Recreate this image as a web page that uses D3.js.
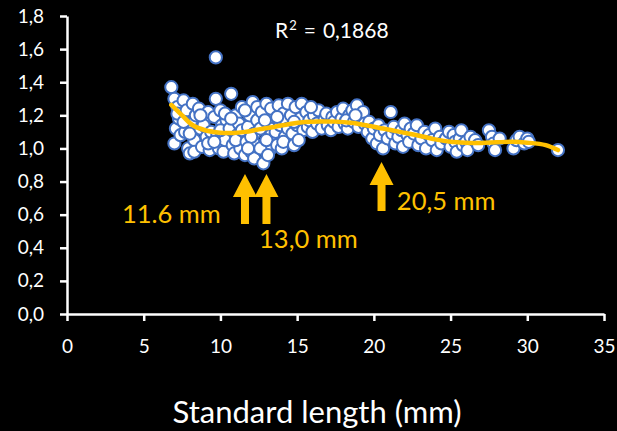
<!DOCTYPE html>
<html>
<head>
<meta charset="utf-8">
<script src="https://cdn.jsdelivr.net/npm/d3@7"></script>
<style>
  html, body { margin: 0; padding: 0; background: #000; }
  svg { display: block; }
  text { font-family: Lato, "Open Sans", sans-serif; }
</style>
</head>
<body>
<div id="chart"></div>
<script>
// Standard length (mm) vs. ratio, one pair per fish
const measurements = [
  [6.8,1.37],[7.0,1.30],[7.2,1.25],[7.1,1.12],[7.0,1.03],[7.3,1.18],[7.4,1.08],[7.2,1.21],
  [7.6,1.29],[7.8,1.23],[7.7,1.10],[7.9,1.00],[8.0,0.97],[8.1,1.15],[8.2,1.27],[8.3,1.05],
  [7.6,1.16],[8.4,1.20],[8.0,1.09],[8.3,0.98],
  [8.6,1.24],[8.7,1.12],[8.8,1.01],[9.0,1.18],[9.1,1.07],[9.2,1.22],[9.3,0.99],[8.9,1.14],
  [9.4,1.10],[8.7,1.20],[9.2,1.03],
  [9.7,1.55],[9.7,1.30],[9.6,1.19],[9.8,1.08],[9.9,1.00],[10.0,1.23],[10.1,1.14],[10.2,0.98],
  [10.3,1.05],[10.4,1.17],[9.6,1.04],[10.0,1.11],[10.3,1.21],
  [10.7,1.33],[10.6,1.12],[10.8,1.02],[10.9,0.97],[11.0,1.20],[11.1,1.08],[11.2,1.15],[11.3,1.00],
  [11.4,1.25],[10.7,1.18],[11.0,1.05],[11.4,1.11],
  [11.6,0.96],[11.7,1.04],[11.8,1.13],[11.9,1.20],[12.0,0.98],[12.1,1.28],[12.2,1.09],[12.3,1.02],
  [12.4,1.17],[11.6,1.23],[12.0,1.07],[12.2,0.94],[12.4,1.25],[11.8,1.00],
  [12.6,1.12],[12.7,1.22],[12.8,0.91],[12.9,1.03],[13.0,1.27],[13.1,1.15],[13.2,0.99],[13.3,1.08],
  [13.4,1.19],[12.6,1.00],[12.9,1.17],[13.1,0.96],[13.3,1.24],[13.0,1.05],
  [13.6,1.10],[13.7,1.02],[13.8,1.26],[13.9,1.14],[14.0,1.00],[14.1,1.21],[14.2,1.07],[14.3,1.16],
  [14.4,1.27],[13.7,1.19],[14.1,1.04],[14.4,1.12],
  [14.6,1.20],[14.7,1.09],[14.8,1.02],[14.9,1.25],[15.0,1.14],[15.2,1.18],[15.3,1.27],[15.4,1.11],
  [15.1,1.05],[14.8,1.16],
  [15.6,1.22],[15.7,1.13],[15.8,1.17],[16.0,1.10],[16.1,1.20],[16.3,1.15],[16.4,1.23],[15.9,1.25],
  [16.6,1.12],[16.8,1.18],[16.9,1.21],[17.0,1.14],[17.2,1.11],[17.3,1.19],[17.4,1.16],
  [17.6,1.22],[17.7,1.13],[17.9,1.18],[18.0,1.24],[18.1,1.15],[18.3,1.12],[18.4,1.20],[18.2,1.17],
  [18.6,1.23],[18.7,1.16],[18.9,1.26],[19.0,1.13],[19.2,1.19],[19.3,1.22],[19.4,1.15],[18.8,1.20],
  [19.6,1.10],[19.7,1.16],[19.9,1.06],[20.0,1.12],[20.2,1.03],[20.3,1.14],[20.4,1.08],
  [20.6,1.00],[20.7,1.11],[20.9,1.06],[21.1,1.22],[21.2,1.09],[21.3,1.13],[21.4,1.03],
  [21.6,1.07],[21.8,1.11],[21.9,1.01],[22.0,1.15],[22.2,1.08],[22.3,1.04],[22.4,1.12],
  [22.6,1.09],[22.8,1.14],[22.9,1.02],[23.1,1.06],[23.3,1.10],[23.4,1.00],
  [23.6,1.08],[23.8,1.05],[24.0,1.12],[24.1,0.99],[24.3,1.07],[24.4,1.03],
  [24.7,1.06],[24.9,1.10],[25.0,1.01],[25.2,1.08],[25.3,1.04],[25.4,0.98],
  [25.6,1.06],[25.7,1.11],[25.8,1.02],[26.0,1.04],[26.1,0.99],[26.3,1.07],
  [26.6,1.05],[26.8,1.02],[27.5,1.11],
  [27.7,1.07],[27.8,1.03],[27.9,0.99],[28.2,1.06],
  [29.1,1.00],[29.3,1.05],[29.5,1.07],[29.8,1.03],[30.0,1.06],[30.1,1.04],
  [32.0,0.99]
];

// Fitted trend curve, sampled along the length range
const trendPoints = [
  [6.8,1.263],[7.5,1.20],[8.2,1.14],[9.0,1.11],[10.0,1.095],[10.8,1.093],[11.6,1.10],
  [12.5,1.115],[13.5,1.13],[14.5,1.148],[15.5,1.16],[16.5,1.163],[17.5,1.162],[18.5,1.155],
  [19.5,1.14],[20.6,1.12],[21.7,1.10],[22.8,1.08],[24,1.055],[25,1.04],[26,1.034],[27,1.033],
  [28,1.037],[29,1.04],[30,1.035],[31.2,1.02],[32,0.99]
];

// Marked lengths: arrow x, arrow tip and tail on the ratio scale
const markers = [
  { x: 11.6, tip: 0.846, tail: 0.544 },
  { x: 13.0, tip: 0.846, tail: 0.544 },
  { x: 20.5, tip: 0.918, tail: 0.622 }
];
const markerLabels = [
  { text: "11.6 mm", x: 3.58, y: 0.55 },
  { text: "13,0 mm", x: 12.52, y: 0.40 },
  { text: "20,5 mm", x: 21.5, y: 0.63 }
];

const xTicks = [0, 5, 10, 15, 20, 25, 30, 35];
const yTicks = [0, 0.2, 0.4, 0.6, 0.8, 1.0, 1.2, 1.4, 1.6, 1.8];
const rSquaredValue = "0,1868";
const xTitle = "Standard length (mm)";

const W = 617, H = 431;
const gold = "#FFC000", blue = "#4472C4";

const svg = d3.select("#chart").append("svg")
  .attr("width", W).attr("height", H)
  .style("background", "#000");

const x = d3.scaleLinear().domain([0, 35]).range([67, 604]);
const y = d3.scaleLinear().domain([0, 1.8]).range([314, 16]);

const comma = v => d3.format(".1f")(v).replace(".", ",");

// Axes
const yAxis = svg.append("g")
  .attr("transform", `translate(${x(0)},0)`)
  .call(d3.axisLeft(y).tickValues(yTicks).tickFormat(comma)
    .tickSize(7).tickSizeOuter(0).tickPadding(16));
const xAxis = svg.append("g")
  .attr("transform", `translate(0,${y(0)})`)
  .call(d3.axisBottom(x).tickValues(xTicks).tickFormat(d3.format("d"))
    .tickSize(7).tickSizeOuter(0).tickPadding(18.5));

[yAxis, xAxis].forEach(g => {
  g.selectAll("path.domain").attr("stroke", "#fff").attr("stroke-width", 2.5);
  g.selectAll(".tick line").attr("stroke", "#fff").attr("stroke-width", 2.5);
  g.selectAll(".tick text").attr("fill", "#fff")
    .style("font-family", "Lato, sans-serif").style("font-size", "19px");
});

// Scatter
svg.append("g").selectAll("circle")
  .data(measurements)
  .join("circle")
  .attr("cx", d => x(d[0]))
  .attr("cy", d => y(d[1]))
  .attr("r", 6.1)
  .attr("fill", "#fff")
  .attr("stroke", blue)
  .attr("stroke-width", 2);

// Trend line
svg.append("path")
  .datum(trendPoints)
  .attr("fill", "none")
  .attr("stroke", gold)
  .attr("stroke-width", 4.5)
  .attr("stroke-linecap", "round")
  .attr("d", d3.line().x(d => x(d[0])).y(d => y(d[1])).curve(d3.curveCatmullRom.alpha(0.5)));

// Arrows
const headW = 12, headH = 23, shaftW = 4;
svg.append("g").selectAll("path")
  .data(markers)
  .join("path")
  .attr("fill", gold)
  .attr("d", d => {
    const cx = x(d.x), t = y(d.tip), b = y(d.tail), hb = t + headH;
    return `M${cx},${t} L${cx + headW},${hb} L${cx + shaftW},${hb} L${cx + shaftW},${b}` +
           ` L${cx - shaftW},${b} L${cx - shaftW},${hb} L${cx - headW},${hb} Z`;
  });

svg.append("g").selectAll("text")
  .data(markerLabels)
  .join("text")
  .attr("x", d => x(d.x))
  .attr("y", d => y(d.y))
  .attr("fill", gold)
  .style("font-size", "25.5px")
  .text(d => d.text);

// R² annotation
const r2 = svg.append("text")
  .attr("x", 275).attr("y", 38)
  .attr("fill", "#fff")
  .style("font-size", "21px");
r2.append("tspan").text("R");
r2.append("tspan").attr("dy", -8).attr("dx", 1).style("font-size", "13px").text("2");
r2.append("tspan").attr("dy", 8).attr("dx", 7).text("=");
r2.append("tspan").attr("dx", 7).text(rSquaredValue);

// Axis title
svg.append("text")
  .attr("x", 317)
  .attr("y", 423)
  .attr("text-anchor", "middle")
  .attr("fill", "#fff")
  .style("font-size", "31px")
  .text(xTitle);
</script>
</body>
</html>
